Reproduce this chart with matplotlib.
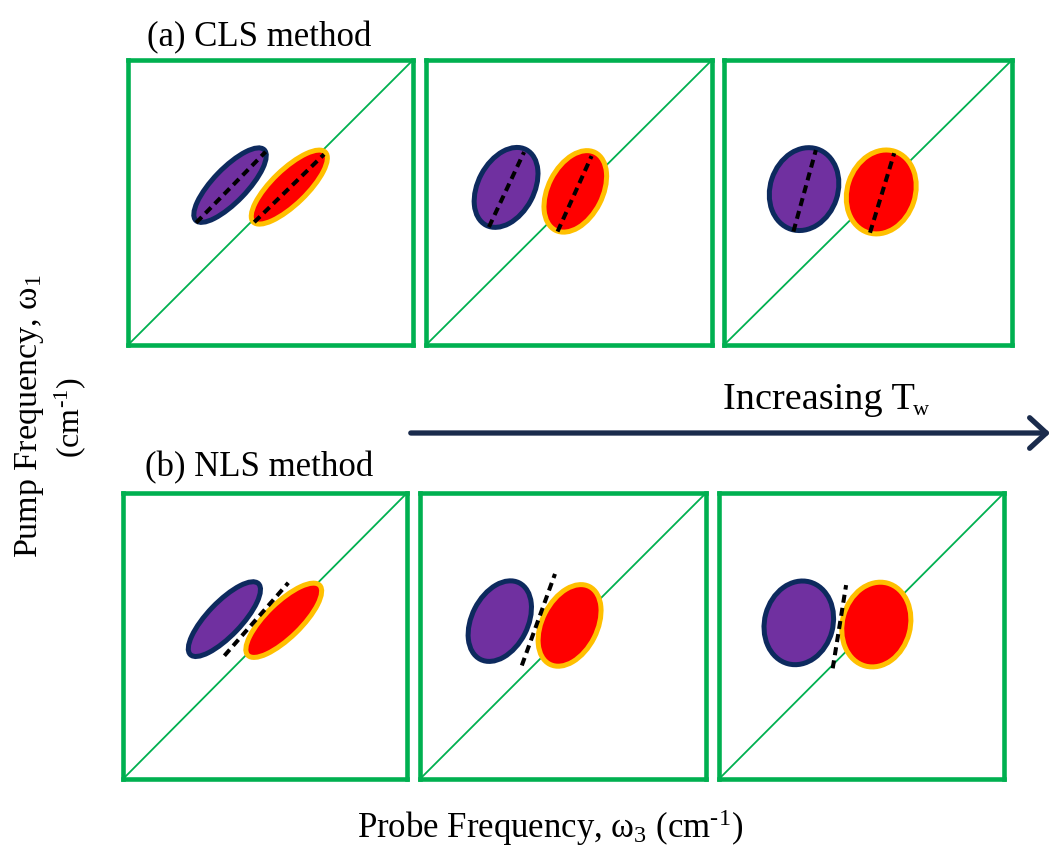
import matplotlib
matplotlib.use("Agg")
import matplotlib.pyplot as plt
from matplotlib.patches import Ellipse, FancyArrowPatch

plt.rcParams['font.family'] = ['Liberation Serif', 'DejaVu Serif']
plt.rcParams['mathtext.fontset'] = 'custom'
plt.rcParams['mathtext.rm'] = 'Liberation Serif'
plt.rcParams['mathtext.it'] = 'Liberation Serif'
plt.rcParams['mathtext.bf'] = 'Liberation Serif'
plt.rcParams['mathtext.default'] = 'rm'

# ---------------- data (panel-local coordinates, 0..1) ----------------
row_titles = ["(a) CLS method", "(b) NLS method"]

# purple (lower-frequency) peak: center x, center y, major, minor, angle
purple_cx = [[0.358, 0.280, 0.278], [0.357, 0.279, 0.280]]
purple_cy = [[0.561, 0.553, 0.547], [0.559, 0.552, 0.546]]
purple_w = [[0.345, 0.300, 0.296], [0.345, 0.300, 0.296]]
purple_h = [[0.118, 0.196, 0.235], [0.118, 0.196, 0.240]]
purple_ang = [[46, 62, 72], [46, 63, 75]]

# red (diagonal) peak
red_cx = [[0.566, 0.522, 0.546], [0.566, 0.523, 0.552]]
red_cy = [[0.554, 0.539, 0.537], [0.555, 0.537, 0.540]]
red_w = [[0.352, 0.306, 0.300], [0.352, 0.305, 0.300]]
red_h = [[0.122, 0.190, 0.236], [0.122, 0.192, 0.238]]
red_ang = [[44, 63, 72], [44, 63, 75]]

# CLS dashed center lines (x0, y0, x1, y1) for purple and red peaks
cls_purple_line = [(0.239, 0.429, 0.483, 0.678),
                   (0.220, 0.414, 0.343, 0.677),
                   (0.241, 0.398, 0.319, 0.684)]
cls_red_line = [(0.443, 0.431, 0.688, 0.669),
                (0.460, 0.398, 0.579, 0.663),
                (0.507, 0.394, 0.591, 0.673)]
# NLS dashed node lines
nls_line = [(0.357, 0.431, 0.582, 0.686),
            (0.356, 0.397, 0.472, 0.717),
            (0.399, 0.387, 0.446, 0.678)]

# ---------------- layout ----------------
W, H = 1055, 846
fig = plt.figure(figsize=(W / 100, H / 100), dpi=100)

boxes = [
    [(128, 60, 285, 285), (426, 60, 286, 285), (724, 60, 288, 285)],
    [(123, 493, 284, 286), (420, 493, 286, 286), (719, 493, 285, 286)],
]

GREEN = '#00B050'
PURPLE = '#7030A0'
NAVY = '#0D2A5E'
RED = '#FF0000'
GOLD = '#FFC000'
DASH = (0, (2.0, 1.3))

for r in range(2):
    for c in range(3):
        x, y, w, h = boxes[r][c]
        ax = fig.add_axes([x / W, 1 - (y + h) / H, w / W, h / H])
        ax.set_xlim(0, 1)
        ax.set_ylim(0, 1)
        ax.set_xticks([])
        ax.set_yticks([])
        for s in ax.spines.values():
            s.set_color(GREEN)
            s.set_linewidth(3.3)
        ax.plot([0, 1], [0, 1], color=GREEN, lw=1.3, zorder=1)
        ax.add_patch(Ellipse((purple_cx[r][c], purple_cy[r][c]), purple_w[r][c],
                             purple_h[r][c], angle=purple_ang[r][c],
                             facecolor=PURPLE, edgecolor=NAVY, lw=3.6, zorder=2))
        ax.add_patch(Ellipse((red_cx[r][c], red_cy[r][c]), red_w[r][c],
                             red_h[r][c], angle=red_ang[r][c],
                             facecolor=RED, edgecolor=GOLD, lw=3.6, zorder=2))
        if r == 0:
            for ln in (cls_purple_line[c], cls_red_line[c]):
                ax.plot([ln[0], ln[2]], [ln[1], ln[3]], color='black', lw=2.9,
                        ls=DASH, zorder=3)
        else:
            ln = nls_line[c]
            ax.plot([ln[0], ln[2]], [ln[1], ln[3]], color='black', lw=2.9,
                    ls=DASH, zorder=3)

FS = 25
fig.text(147 / W, 1 - 46 / H, row_titles[0], fontsize=FS, ha='left', va='baseline')
fig.text(145 / W, 1 - 476 / H, row_titles[1], fontsize=FS, ha='left', va='baseline')
fig.text(723 / W, 1 - 409 / H, 'Increasing T', fontsize=27.5,
         ha='left', va='baseline')
fig.text(913 / W, 1 - 415 / H, 'w', fontsize=16, ha='left', va='baseline')
fig.text(550 / W, 1 - 838 / H, r'Probe Frequency, ω$_{3}$ (cm$^{\text{-}1}$)', fontsize=FS,
         ha='center', va='baseline')
fig.text(30 / W, 1 - 416 / H, r'Pump Frequency, ω$_{1}$', fontsize=24.5,
         rotation=90, ha='center', va='center')
fig.text(70 / W, 1 - 418 / H, r'(cm$^{\text{-}1}$)', fontsize=23,
         rotation=90, ha='center', va='center')

arrow = FancyArrowPatch((408 / W, 1 - 433 / H), (1053 / W, 1 - 433 / H),
                        transform=fig.transFigure,
                        arrowstyle='->,head_length=12,head_width=11',
                        mutation_scale=1, color='#1A2B4C', lw=3.8,
                        capstyle='round', joinstyle='round')
fig.patches.append(arrow)

fig.savefig('out.png', dpi=100, facecolor='white')
